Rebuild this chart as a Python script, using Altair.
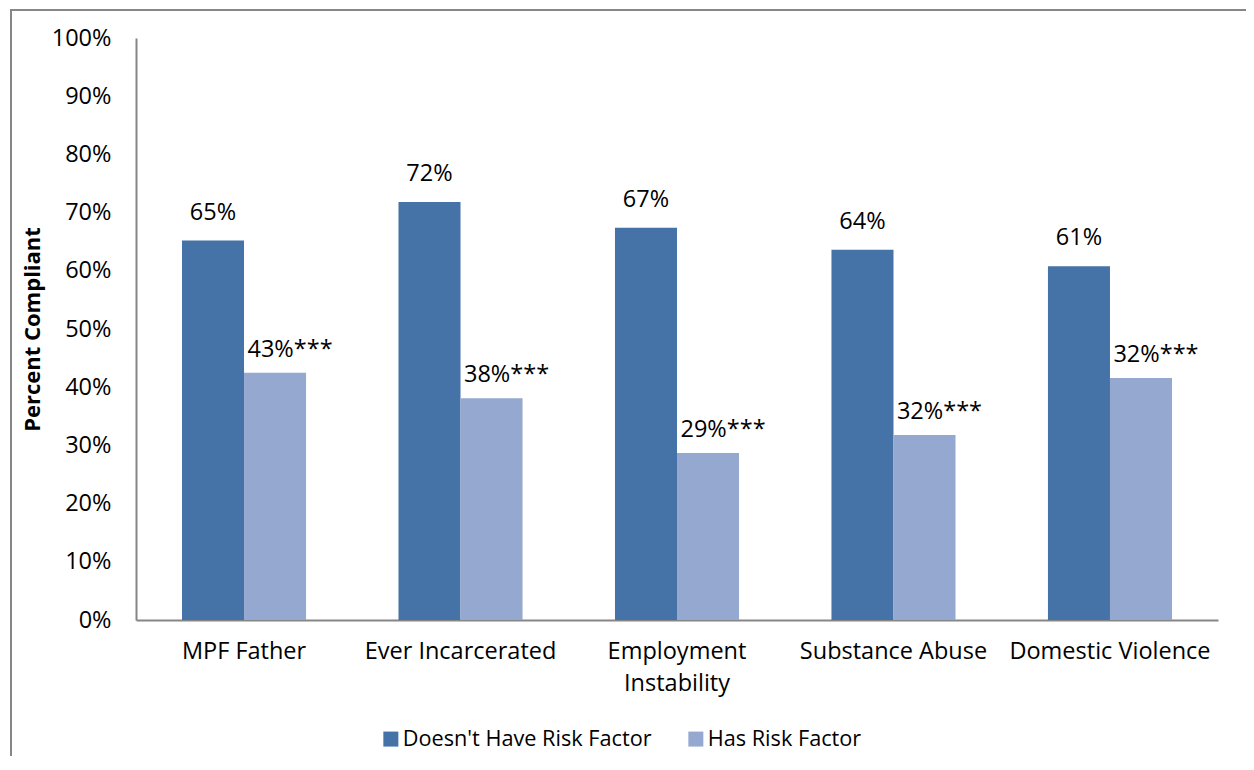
import altair as alt
import pandas as pd

categories = ["MPF Father", "Ever Incarcerated", "Employment\nInstability", "Substance Abuse", "Domestic Violence"]
series = ["Doesn't Have Risk Factor", "Has Risk Factor"]
no_risk = [0.652, 0.718, 0.674, 0.636, 0.608]
has_risk = [0.425, 0.381, 0.287, 0.318, 0.416]
no_risk_labels = ["65%", "72%", "67%", "64%", "61%"]
has_risk_labels = ["43%***", "38%***", "29%***", "32%***", "32%***"]
colors = ["#4572A7", "#95A9D0"]

rows = []
for i, c in enumerate(categories):
    rows.append({"category": c, "series": series[0], "value": no_risk[i], "label": no_risk_labels[i], "order": 0})
    rows.append({"category": c, "series": series[1], "value": has_risk[i], "label": has_risk_labels[i], "order": 1})
df = pd.DataFrame(rows)

FONT = "Open Sans"
FS = 23.5

x_enc = alt.X("category:N", sort=categories, title=None,
              scale=alt.Scale(paddingInner=0.427, paddingOuter=0.2125),
              axis=alt.Axis(labelAngle=0, labelExpr="split(datum.label, '\\n')",
                            labelFontSize=FS, labelFont=FONT, labelColor="#000000",
                            labelPadding=19, labelLineHeight=32, labelLimit=0, ticks=False,
                            domainColor="#868686", domainWidth=2, grid=False))
xoff = alt.XOffset("series:N", sort=series, scale=alt.Scale(paddingInner=0, paddingOuter=0))
y_enc = alt.Y("value:Q", scale=alt.Scale(domain=[0, 1], nice=False),
              axis=alt.Axis(format=".0%", values=[i / 10 for i in range(11)],
                            title="Percent Compliant", titleFont=FONT, titleFontSize=22,
                            titleFontWeight="bold", titleColor="#000000", titlePadding=7,
                            labelFontSize=FS, labelFont=FONT, labelColor="#000000",
                            labelPadding=25, ticks=False, domainColor="#868686",
                            domainWidth=2, grid=False))

base = alt.Chart(df)

bars = base.mark_bar().encode(
    x=x_enc,
    xOffset=xoff,
    y=y_enc,
    color=alt.Color("series:N", sort=series,
                    scale=alt.Scale(domain=series, range=colors),
                    legend=alt.Legend(title=None, orient="none", direction="horizontal",
                                      legendX=244, legendY=690, symbolType="square",
                                      symbolSize=225, symbolStrokeWidth=0,
                                      labelFont=FONT, labelFontSize=21.7, labelColor="#000000",
                                      labelOffset=1, columnPadding=33, labelLimit=0)),
)

dark_text = base.transform_filter(alt.datum.order == 0).mark_text(
    font=FONT, fontSize=FS, color="#000000", baseline="middle", dy=-28
).encode(x=alt.X("category:N", sort=categories), xOffset=xoff, y="value:Q", text="label:N")

light_text = base.transform_filter(alt.datum.order == 1).mark_text(
    font=FONT, fontSize=FS, color="#000000", baseline="middle", dy=-23, dx=15
).encode(x=alt.X("category:N", sort=categories), xOffset=xoff, y="value:Q", text="label:N")

frame_df = pd.DataFrame({"f": [0]})
frame_top = alt.Chart(frame_df).mark_rect(fill="#868686", strokeWidth=0).encode(
    x=alt.value(-126), x2=alt.value(1110), y=alt.value(-29), y2=alt.value(-27))
frame_left = alt.Chart(frame_df).mark_rect(fill="#868686", strokeWidth=0).encode(
    x=alt.value(-126), x2=alt.value(-124), y=alt.value(-29), y2=alt.value(724))

chart = alt.layer(frame_top, frame_left, bars, dark_text, light_text).properties(
    width=1082, height=582,
    background="#ffffff",
    autosize=alt.AutoSizeParams(type="none"),
    padding={"left": 128, "top": 30, "right": 28, "bottom": 136},
).configure_view(stroke=None)

chart.save("out.html", embed_options={"renderer": "svg", "actions": False})
